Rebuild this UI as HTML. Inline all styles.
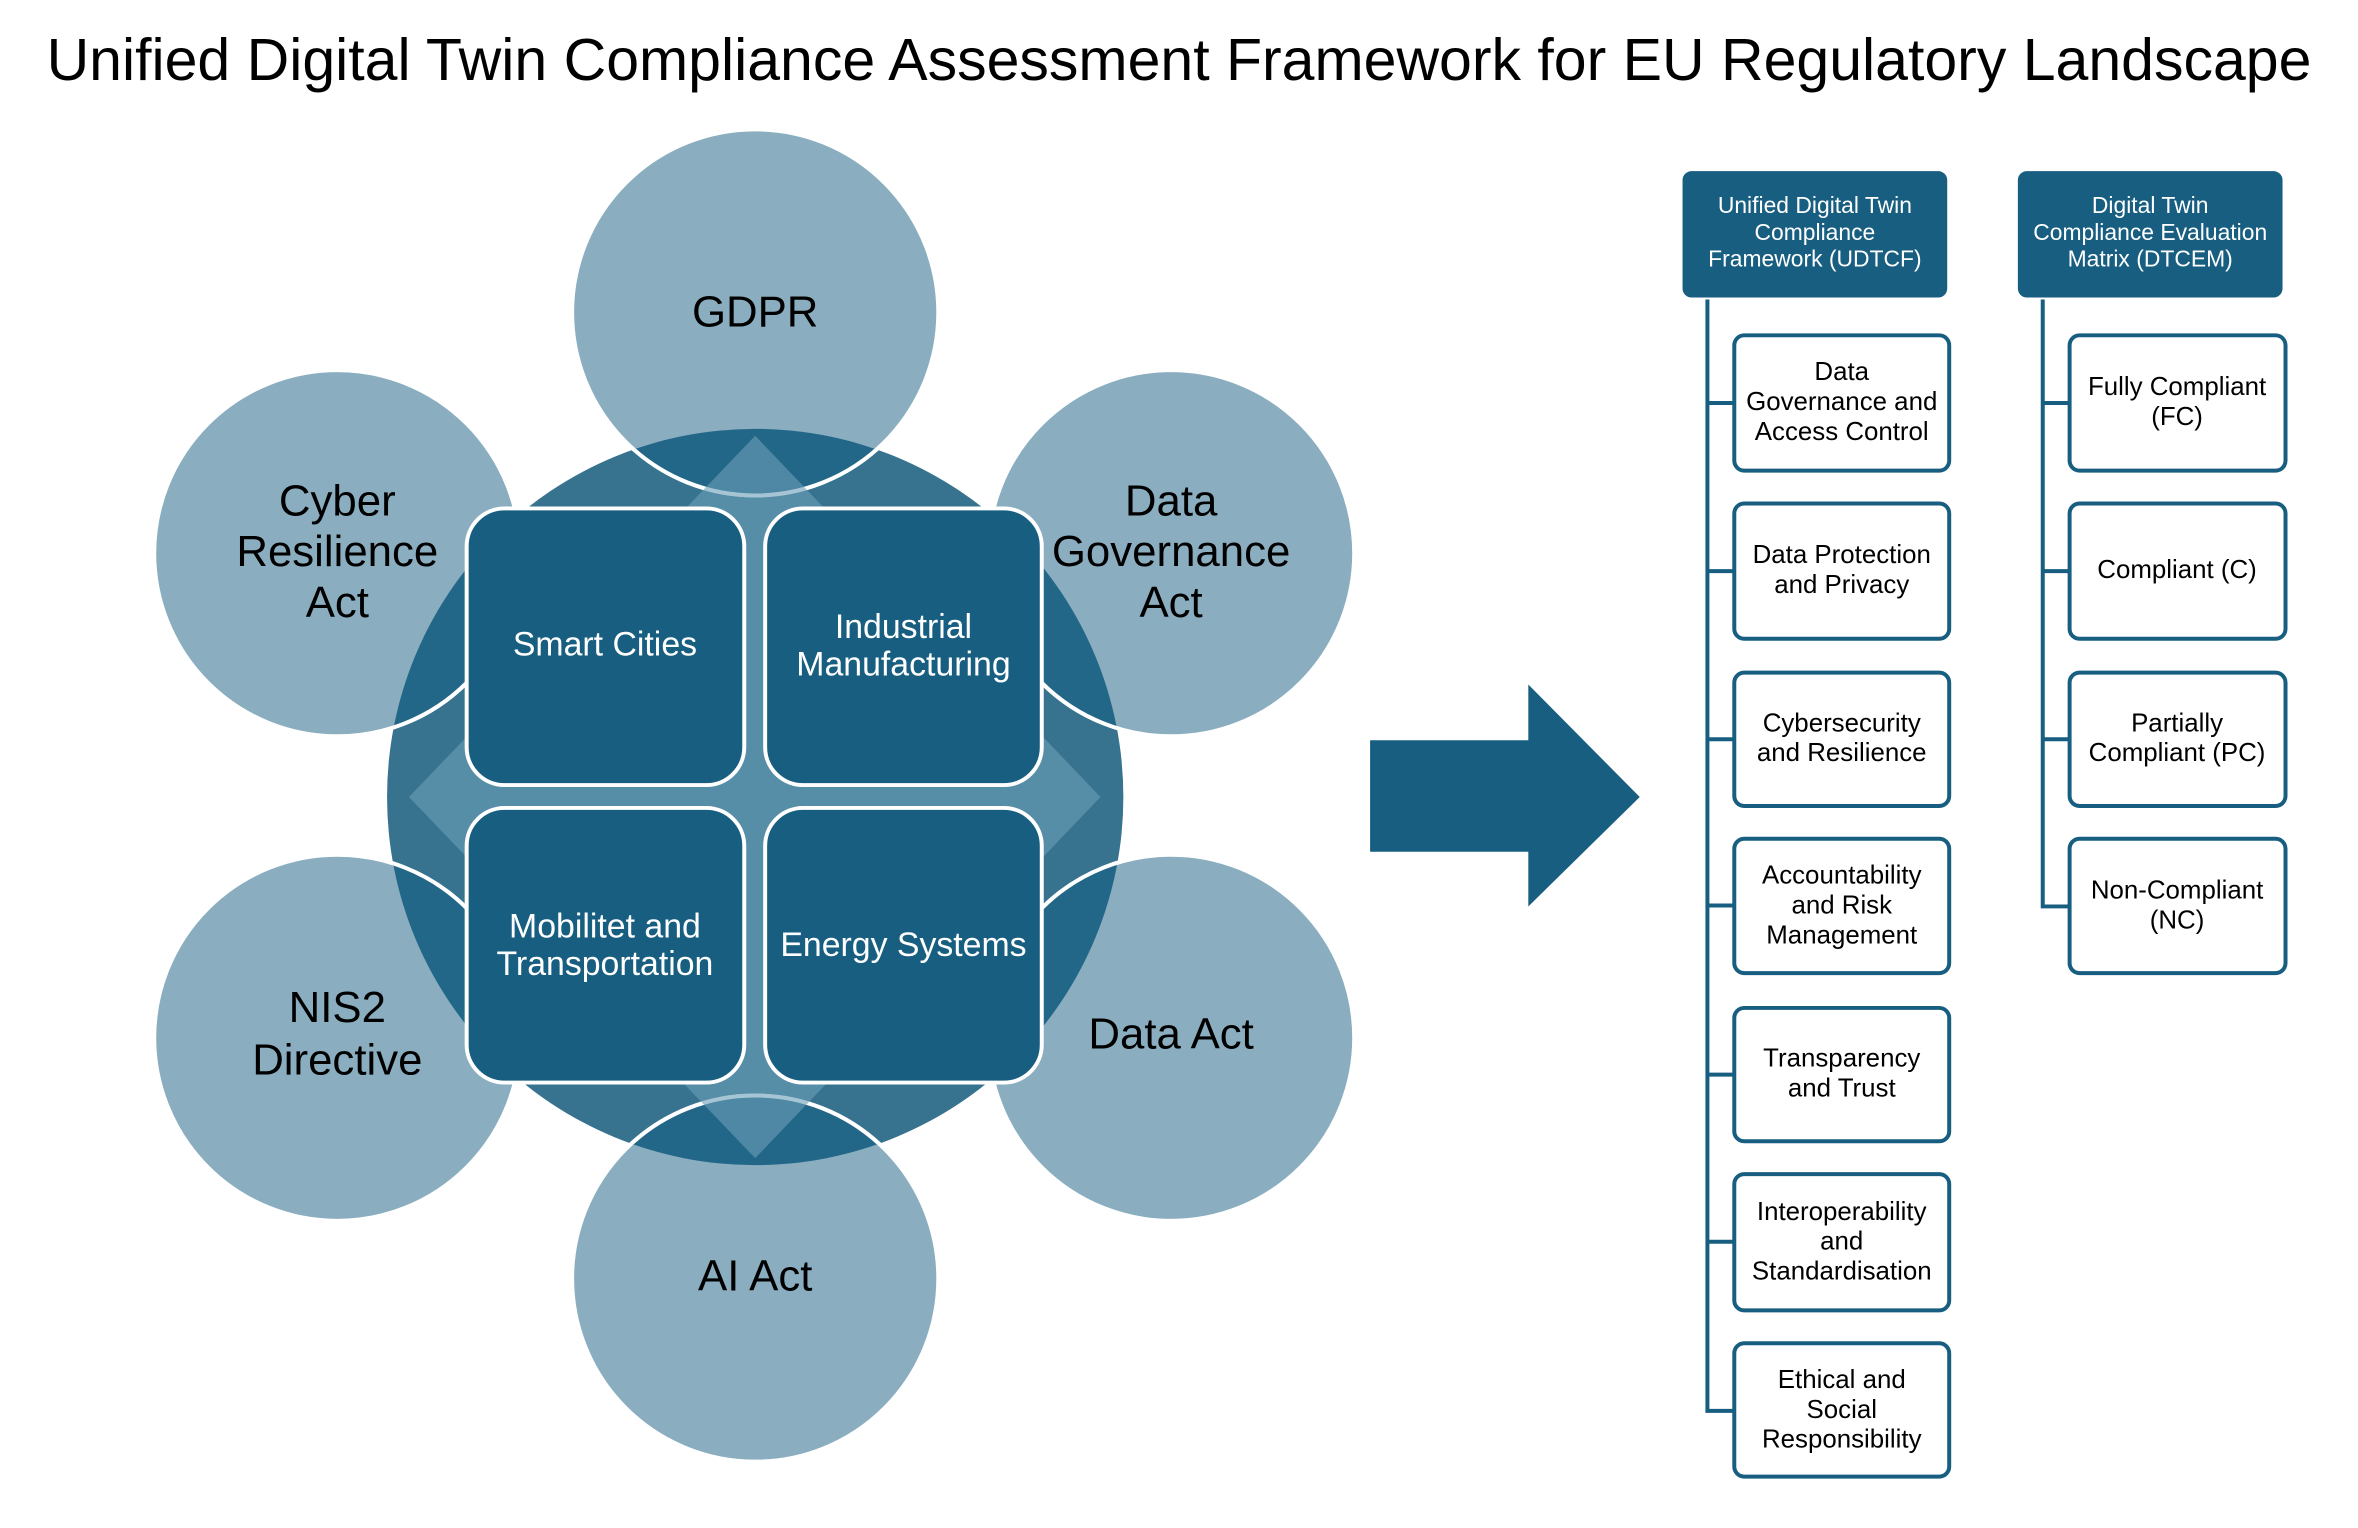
<!DOCTYPE html>
<html><head><meta charset="utf-8"><style>
html,body{margin:0;padding:0;background:#fff;}
svg{display:block;font-family:"Liberation Sans",sans-serif;}
</style></head><body>
<svg width="2358" height="1528" viewBox="0 0 2358 1528" xmlns="http://www.w3.org/2000/svg">
<defs>
<clipPath id="big"><circle cx="759" cy="801" r="370"/></clipPath>
</defs>
<text x="1179" y="80" font-size="59" text-anchor="middle" fill="#000">Unified Digital Twin Compliance Assessment Framework for EU Regulatory Landscape</text>
<g transform="scale(0.995)">
<circle cx="759" cy="801" r="370" fill="#37738f"/>
<g fill="#8aaec0" stroke="#fff" stroke-width="4">
<circle cx="759" cy="314" r="184"/>
<circle cx="339" cy="556" r="184"/>
<circle cx="1177" cy="556" r="184"/>
<circle cx="339" cy="1043" r="184"/>
<circle cx="1177" cy="1043" r="184"/>
<circle cx="759" cy="1285" r="184"/>
</g>
<g clip-path="url(#big)" fill="#236788" stroke="#fff" stroke-width="4">
<circle cx="759" cy="314" r="184"/>
<circle cx="339" cy="556" r="184"/>
<circle cx="1177" cy="556" r="184"/>
<circle cx="339" cy="1043" r="184"/>
<circle cx="1177" cy="1043" r="184"/>
<circle cx="759" cy="1285" r="184"/>
</g>
<polygon points="759,438 1106,801 759,1164 411,801" fill="#6a9fb8" opacity="0.6"/>

<g font-size="44" text-anchor="middle" fill="#000">
<text x="759" y="328">GDPR</text>
<text x="339" y="518">Cyber</text><text x="339" y="569">Resilience</text><text x="339" y="620">Act</text>
<text x="1177" y="518">Data</text><text x="1177" y="569">Governance</text><text x="1177" y="620">Act</text>
<text x="339" y="1027">NIS2</text><text x="339" y="1080">Directive</text>
<text x="1177" y="1054">Data Act</text>
<text x="759" y="1297">AI Act</text>
</g>

<g fill="#175e80" stroke="#fff" stroke-width="4">
<rect x="469" y="511" width="279" height="278" rx="38"/>
<rect x="769" y="511" width="278" height="278" rx="38"/>
<rect x="469" y="812" width="279" height="276" rx="38"/>
<rect x="769" y="812" width="278" height="276" rx="38"/>
</g>
<g font-size="34" text-anchor="middle" fill="#fff">
<text x="608" y="659">Smart Cities</text>
<text x="908" y="641">Industrial</text><text x="908" y="679">Manufacturing</text>
<text x="608" y="942">Mobilitet and</text><text x="608" y="980">Transportation</text>
<text x="908" y="961">Energy Systems</text>
</g>

<polygon points="1377,744 1536,744 1536,688 1648,801 1536,911 1536,856 1377,856" fill="#175e80"/>

<rect x="1691" y="172" width="266" height="127" rx="9" fill="#175e80"/>
<rect x="2028" y="172" width="266" height="127" rx="9" fill="#175e80"/>
<g font-size="23" text-anchor="middle" fill="#fff">
<text x="1824" y="214">Unified Digital Twin</text><text x="1824" y="241">Compliance</text><text x="1824" y="268">Framework (UDTCF)</text>
<text x="2161" y="214">Digital Twin</text><text x="2161" y="241">Compliance Evaluation</text><text x="2161" y="268">Matrix (DTCEM)</text>
</g>

<g stroke="#175e80" stroke-width="4" fill="none">
<path d="M1716 301 V1418 H1743"/>
<path d="M1716 405 H1743 M1716 574 H1743 M1716 743 H1743 M1716 910 H1743 M1716 1080 H1743 M1716 1248 H1743"/>
<path d="M2053 301 V911 H2080"/>
<path d="M2053 405 H2080 M2053 574 H2080 M2053 743 H2080"/>
</g>
<g fill="#fff" stroke="#175e80" stroke-width="4">
<rect x="1743" y="337" width="216" height="136" rx="10"/>
<rect x="1743" y="506" width="216" height="136" rx="10"/>
<rect x="1743" y="676" width="216" height="134" rx="10"/>
<rect x="1743" y="843" width="216" height="135" rx="10"/>
<rect x="1743" y="1013" width="216" height="134" rx="10"/>
<rect x="1743" y="1180" width="216" height="137" rx="10"/>
<rect x="1743" y="1350" width="216" height="134" rx="10"/>
<rect x="2080" y="337" width="217" height="136" rx="10"/>
<rect x="2080" y="506" width="217" height="136" rx="10"/>
<rect x="2080" y="676" width="217" height="134" rx="10"/>
<rect x="2080" y="843" width="217" height="135" rx="10"/>
</g>
<g font-size="26" text-anchor="middle" fill="#000">
<text x="1851" y="382">Data</text><text x="1851" y="412">Governance and</text><text x="1851" y="442">Access Control</text>
<text x="1851" y="566">Data Protection</text><text x="1851" y="596">and Privacy</text>
<text x="1851" y="735">Cybersecurity</text><text x="1851" y="765">and Resilience</text>
<text x="1851" y="888">Accountability</text><text x="1851" y="918">and Risk</text><text x="1851" y="948">Management</text>
<text x="1851" y="1072">Transparency</text><text x="1851" y="1102">and Trust</text>
<text x="1851" y="1226">Interoperability</text><text x="1851" y="1256">and</text><text x="1851" y="1286">Standardisation</text>
<text x="1851" y="1395">Ethical and</text><text x="1851" y="1425">Social</text><text x="1851" y="1455">Responsibility</text>
<text x="2188" y="397">Fully Compliant</text><text x="2188" y="427">(FC)</text>
<text x="2188" y="581">Compliant (C)</text>
<text x="2188" y="735">Partially</text><text x="2188" y="765">Compliant (PC)</text>
<text x="2188" y="903">Non-Compliant</text><text x="2188" y="933">(NC)</text>
</g>
</g>
</svg>
</body></html>
